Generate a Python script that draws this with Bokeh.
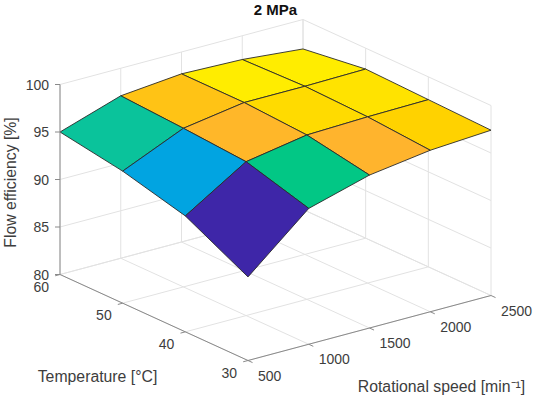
import numpy as np
from bokeh.plotting import figure
from bokeh.models import Range1d
from bokeh.embed import file_html
from bokeh.resources import INLINE
from bokeh.core.properties import value

# ---------------- data ----------------
speed = [500, 1000, 1500, 2000, 2500]          # rotational speed [min^-1]
temperature = [30, 40, 50, 60]                  # temperature [°C]
efficiency = [                                  # rows: temperature, cols: speed
    [88.8, 94.3, 96.1, 97.0, 97.4],
    [92.2, 96.2, 97.3, 97.5, 97.6],
    [93.9, 96.7, 97.7, 97.7, 97.8],
    [95.0, 97.1, 97.7, 97.5, 96.9],
]
speed_ticks = [500, 1000, 1500, 2000, 2500]
temp_ticks = [30, 40, 50, 60]
eff_ticks = [80, 85, 90, 95, 100]
title_text = "2 MPa"
xlabel = "Rotational speed [min\u207b\u00b9]"
ylabel = "Temperature [°C]"
zlabel = "Flow efficiency [%]"

XLIM = (500, 2500)
YLIM = (30, 60)
ZLIM = (80, 100)

# colormap anchors (parula-like, as seen in the picture)
cmap_pos = [0.0, 0.20, 0.38, 0.57, 0.62, 0.72, 0.81, 0.88, 0.91, 0.94, 0.97, 1.0]
cmap_col = ["#3e26a8", "#2f5ff0", "#00a5e1", "#0ac49a", "#00c880", "#80c050",
            "#ffb42d", "#ffc314", "#ffd200", "#ffd900", "#ffe400", "#fff200"]

# ---------------- projection (az -37.5, el 30 look) ----------------
O = np.array([254.5, 367.0])
EX = np.array([243.0, -65.0])
EY = np.array([-188.0, -86.0])
EZ = np.array([0.0, -190.0])


def norm(v, lim):
    return (v - lim[0]) / (lim[1] - lim[0])


def proj(x, y, z):
    p = O + norm(x, XLIM) * EX + norm(y, YLIM) * EY + norm(z, ZLIM) * EZ
    return float(p[0]), float(p[1])


def hex2rgb(h):
    return np.array([int(h[i:i + 2], 16) for i in (1, 3, 5)], dtype=float)


def cmap(t):
    t = min(max(t, 0.0), 1.0)
    cols = [hex2rgb(c) for c in cmap_col]
    for k in range(len(cmap_pos) - 1):
        if cmap_pos[k] <= t <= cmap_pos[k + 1]:
            f = (t - cmap_pos[k]) / (cmap_pos[k + 1] - cmap_pos[k])
            c = cols[k] * (1 - f) + cols[k + 1] * f
            return "#%02x%02x%02x" % tuple(int(round(v)) for v in c)
    return cmap_col[-1]


W, H = 534, 395
OFFX, OFFY = 7, 7
p = figure(width=W, height=H, x_range=Range1d(OFFX, OFFX + W), y_range=Range1d(OFFY + H, OFFY),
           output_backend="svg", toolbar_location=None, min_border=0)
p.axis.visible = False
p.grid.visible = False
p.outline_line_color = None
p.background_fill_color = "white"
p.border_fill_color = "white"

GRID = "#e2e2e2"
AXC = "#8a8a8a"
TXT = "#3d3d3d"
FONT = value("Liberation Sans")

# ---------------- back grid ----------------
gx, gy = [], []


def seg(a, b):
    x0, y0 = proj(*a)
    x1, y1 = proj(*b)
    gx.append([x0, x1])
    gy.append([y0, y1])


for xt in speed_ticks:
    seg((xt, YLIM[0], ZLIM[0]), (xt, YLIM[1], ZLIM[0]))       # floor
    seg((xt, YLIM[1], ZLIM[0]), (xt, YLIM[1], ZLIM[1]))       # back wall y=60
for yt in temp_ticks:
    seg((XLIM[0], yt, ZLIM[0]), (XLIM[1], yt, ZLIM[0]))       # floor
    seg((XLIM[1], yt, ZLIM[0]), (XLIM[1], yt, ZLIM[1]))       # back wall x=2500
for zt in eff_ticks:
    seg((XLIM[0], YLIM[1], zt), (XLIM[1], YLIM[1], zt))
    seg((XLIM[1], YLIM[0], zt), (XLIM[1], YLIM[1], zt))
p.multi_line(gx, gy, line_color=GRID, line_width=1)

# ---------------- surface ----------------
Z = np.array(efficiency)
zmin, zmax = Z.min(), Z.max()
faces = []
for i in range(len(temperature) - 1):
    for j in range(len(speed) - 1):
        corners = [(speed[j], temperature[i], Z[i, j]),
                   (speed[j + 1], temperature[i], Z[i, j + 1]),
                   (speed[j + 1], temperature[i + 1], Z[i + 1, j + 1]),
                   (speed[j], temperature[i + 1], Z[i + 1, j])]
        pts = [proj(*c) for c in corners]
        xc = norm((speed[j] + speed[j + 1]) / 2, XLIM)
        yc = norm((temperature[i] + temperature[i + 1]) / 2, YLIM)
        depth = 0.61 * xc + 0.79 * yc
        col = cmap((Z[i, j] - zmin) / (zmax - zmin))
        faces.append((depth, [q[0] for q in pts], [q[1] for q in pts], col))
faces.sort(key=lambda f: -f[0])
p.patches([f[1] for f in faces], [f[2] for f in faces],
          fill_color=[f[3] for f in faces], line_color="#2a2a2a", line_width=0.9)

# ---------------- axes ----------------
ax_x, ax_y = [], []


def aseg(a, b):
    ax_x.append([a[0], b[0]])
    ax_y.append([a[1], b[1]])


aseg(proj(XLIM[0], YLIM[0], ZLIM[0]), proj(XLIM[1], YLIM[0], ZLIM[0]))
aseg(proj(XLIM[0], YLIM[0], ZLIM[0]), proj(XLIM[0], YLIM[1], ZLIM[0]))
aseg(proj(XLIM[0], YLIM[1], ZLIM[0]), proj(XLIM[0], YLIM[1], ZLIM[1]))

TL = 5.0
dy_out = -EY / np.linalg.norm(EY)
dx_out = -EX / np.linalg.norm(EX)
for xt in speed_ticks:
    a = np.array(proj(xt, YLIM[0], ZLIM[0]))
    aseg(a, a + TL * dy_out)
for yt in temp_ticks:
    a = np.array(proj(XLIM[0], yt, ZLIM[0]))
    aseg(a, a + TL * dx_out)
for zt in eff_ticks:
    a = np.array(proj(XLIM[0], YLIM[1], zt))
    aseg(a, a + np.array([-TL, 0.0]))
p.multi_line(ax_x, ax_y, line_color=AXC, line_width=1)

# tick labels
tx, ty, tt = [], [], []
for xt in speed_ticks:
    a = proj(xt, YLIM[0], ZLIM[0])
    tx.append(a[0] + 10)
    ty.append(a[1] + 15)
    tt.append(str(xt))
p.text(tx, ty, text=tt, text_font=FONT, text_font_size="14px", text_color=TXT,
       text_align="left", text_baseline="middle")

tx, ty, tt = [], [], []
for yt in temp_ticks:
    a = proj(XLIM[0], yt, ZLIM[0])
    tx.append(a[0] - 11)
    ty.append(a[1] + 12)
    tt.append(str(yt))
p.text(tx, ty, text=tt, text_font=FONT, text_font_size="14px", text_color=TXT,
       text_align="right", text_baseline="middle")

tx, ty, tt = [], [], []
for zt in eff_ticks:
    a = proj(XLIM[0], YLIM[1], zt)
    tx.append(a[0] - 11)
    ty.append(a[1])
    tt.append(str(zt))
p.text(tx, ty, text=tt, text_font=FONT, text_font_size="14px", text_color=TXT,
       text_align="right", text_baseline="middle")

# axis labels and title
p.text([448], [393], text=[xlabel], text_font=FONT, text_font_size="15.8px",
       text_color=TXT, text_align="center", text_baseline="middle")
p.text([104], [383], text=[ylabel], text_font=FONT, text_font_size="15.8px",
       text_color=TXT, text_align="center", text_baseline="middle")
p.text([17], [189], text=[zlabel], text_font=FONT, text_font_size="15.8px",
       text_color=TXT, text_align="center", text_baseline="middle", angle=np.pi / 2)
p.text([282], [16], text=[title_text], text_font=FONT, text_font_size="15px",
       text_font_style="bold", text_color="#111111", text_align="center",
       text_baseline="middle")

open("out.html", "w").write(file_html(p, INLINE))
